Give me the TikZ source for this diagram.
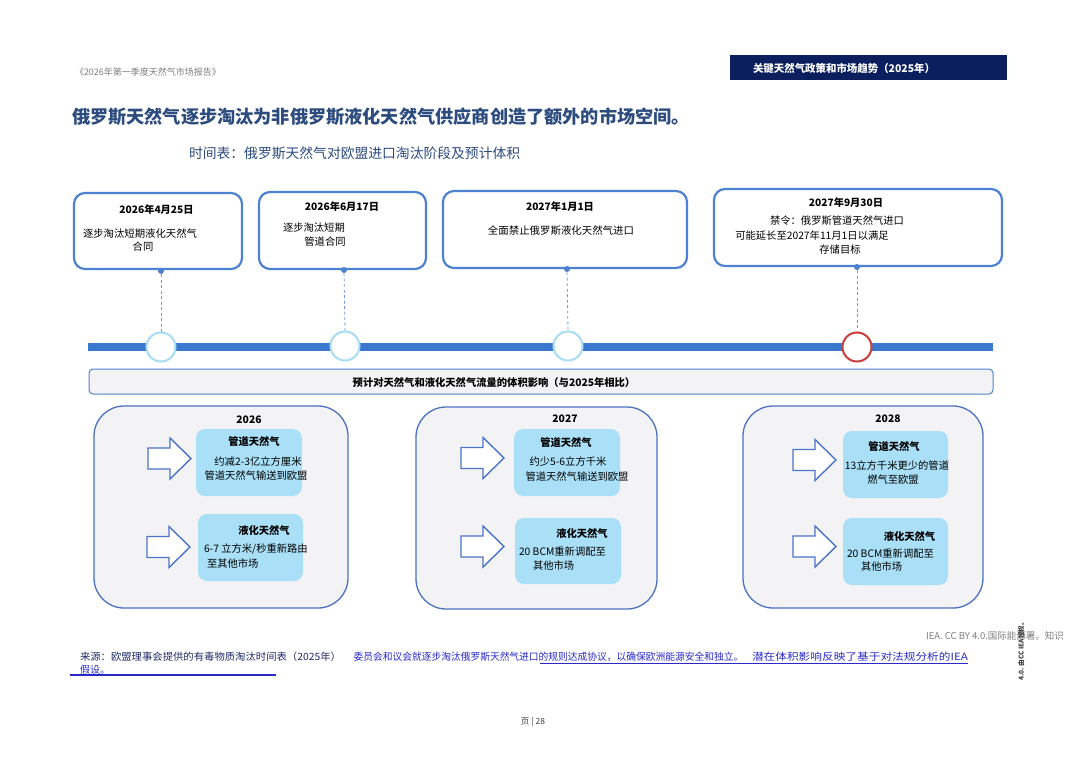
\documentclass[tikz,border=0pt]{standalone}
\usepackage{fontspec}
\usepackage{graphicx}
\setmainfont{Noto Sans CJK SC}
\definecolor{navy}{HTML}{0B1F5E}
\definecolor{titleblue}{HTML}{2C4B7E}
\definecolor{tlblue}{HTML}{4D82D3}
\definecolor{barblue}{HTML}{3A78CF}
\definecolor{circblue}{HTML}{A6DCF4}
\definecolor{circred}{HTML}{CC3D3D}
\definecolor{panelfill}{HTML}{F3F3F5}
\definecolor{panelline}{HTML}{4C72C2}
\definecolor{innerfill}{HTML}{A9E0F7}
\definecolor{arrowline}{HTML}{4A74C8}
\definecolor{srcblue}{HTML}{2A2AC8}
\definecolor{srcdark}{HTML}{1F2C66}
\definecolor{graytxt}{HTML}{7F7F7F}
\newcommand\fs[1]{\fontsize{#1}{#1}\selectfont}
\newcommand\fitw[2]{\resizebox{#1}{\height}{#2}}
\newcommand\hollowarrow[2]{%
  \draw[arrowshape] (#1,#2-10.5) -- (#1+22,#2-10.5) -- (#1+22,#2-20.5) -- (#1+43,#2)
    -- (#1+22,#2+20.5) -- (#1+22,#2+10.5) -- (#1,#2+10.5) -- cycle;}
\begin{document}
\begin{tikzpicture}[x=1pt,y=-1pt,
  tlbox/.style={draw=tlblue, line width=2.2pt, rounded corners=11pt, fill=white, inner sep=0pt},
  panel/.style={draw=panelline, line width=1.3pt, rounded corners=30pt, fill=panelfill, inner sep=0pt},
  innerbox/.style={fill=innerfill, rounded corners=9pt, inner sep=0pt},
  arrowshape/.style={draw=arrowline, line width=1.4pt, fill=white, line join=miter},
  txt/.style={inner sep=0pt, outer sep=0pt},
  datetxt/.style={txt, font=\fs{10.2}\bfseries},
  bodytxt/.style={txt, font=\fs{10.3}},
  headtxt/.style={txt, font=\fs{10.3}\bfseries},
  dot/.style={circle, fill=tlblue, minimum size=6pt, inner sep=0pt},
  mile/.style={circle, draw=circblue, line width=2pt, fill=white, minimum size=29pt, inner sep=0pt},
  dashline/.style={draw=tlblue!80, line width=0.8pt, dash pattern=on 3pt off 2.5pt}
]
\useasboundingbox (0,0) rectangle (1080,764);
\fill[white] (0,0) rectangle (1080,764);

% header
\node[txt, anchor=west, text=graytxt, font=\fs{9}] (hdr) at (75,72) {《2026年第一季度天然气市场报告》};
\node[fill=navy, minimum width=277pt, minimum height=25pt, inner sep=0pt] (navybox) at (868.5,67.5) {};
\node[txt, anchor=west, text=white, font=\fs{10.6}\bfseries] (navytxt) at (753,68) {\fitw{182pt}{关键天然气政策和市场趋势（2025年）}};

% titles
\node[txt, anchor=west, text=titleblue, font=\fs{18}\bfseries] (title) at (72,117) {\fitw{618pt}{俄罗斯天然气逐步淘汰为非俄罗斯液化天然气供应商创造了额外的市场空间。}};
\node[txt, anchor=west, text=titleblue, font=\fs{13.8}] (subtitle) at (189,153) {时间表：俄罗斯天然气对欧盟进口淘汰阶段及预计体积};

% timeline boxes
\node[tlbox, minimum width=168pt, minimum height=76pt] (t1) at (158,231) {};
\node[tlbox, minimum width=167pt, minimum height=77pt] (t2) at (342.5,230.5) {};
\node[tlbox, minimum width=244pt, minimum height=77pt] (t3) at (565,229.5) {};
\node[tlbox, minimum width=288pt, minimum height=77pt] (t4) at (858,227.5) {};

\node[datetxt] (t1d) at (156.5,210) {2026年4月25日};
\node[bodytxt, anchor=west] (t1a) at (83,234) {\fitw{114pt}{逐步淘汰短期液化天然气}};
\node[bodytxt] (t1b) at (143,247) {合同};

\node[datetxt] (t2d) at (342,207) {2026年6月17日};
\node[bodytxt, anchor=west] (t2a) at (283,228) {逐步淘汰短期};
\node[bodytxt] (t2b) at (325,242) {管道合同};

\node[datetxt] (t3d) at (560,207) {2027年1月1日};
\node[bodytxt] (t3a) at (561,231) {\fitw{146pt}{全面禁止俄罗斯液化天然气进口}};

\node[datetxt] (t4d) at (846,203) {2027年9月30日};
\node[bodytxt] (t4a) at (837,221) {禁令：俄罗斯管道天然气进口};
\node[bodytxt] (t4b) at (812,236) {可能延长至2027年11月1日以满足};
\node[bodytxt] (t4c) at (840,250) {存储目标};

% timeline bar
\coordinate (barL) at (88,347);
\coordinate (barR) at (993,347);
\draw[barblue, line width=8pt] (barL) -- (barR);

\node[mile] (c1) at (161,347) {};
\node[mile] (c2) at (345,346) {};
\node[mile] (c3) at (568,346) {};
\node[mile, draw=circred] (c4) at (857,347) {};

\node[dot] (d1) at (161,271) {};
\node[dot] (d2) at (344,270) {};
\node[dot] (d3) at (567,269) {};
\node[dot] (d4) at (857,267) {};
\draw[dashline] (d1) -- (c1.north);
\draw[dashline] (d2) -- (c2.north);
\draw[dashline] (d3) -- (c3.north);
\draw[dashline] (d4) -- (c4.north);

% banner
\node[draw=tlblue, line width=1pt, fill=panelfill, rounded corners=4pt, minimum width=904pt, minimum height=25pt, inner sep=0pt] (banner) at (541,381.5) {};
\node[txt, font=\fs{10.3}\bfseries] (bannertxt) at (494,383) {预计对天然气和液化天然气流量的体积影响（与2025年相比）};

% panels
\node[panel, minimum width=254pt, minimum height=202pt] (p1) at (221,507) {};
\node[panel, minimum width=241pt, minimum height=202pt] (p2) at (536.5,508) {};
\node[panel, minimum width=240pt, minimum height=202pt] (p3) at (863,507) {};

\node[headtxt] (y1) at (249,420) {2026};
\node[headtxt] (y2) at (565,419) {2027};
\node[headtxt] (y3) at (888,419) {2028};

% inner boxes
\node[innerbox, minimum width=106pt, minimum height=67pt] (p1a) at (249,462.5) {};
\node[innerbox, minimum width=105pt, minimum height=67pt] (p1b) at (250.5,547.5) {};
\node[innerbox, minimum width=106pt, minimum height=67pt] (p2a) at (567,462.5) {};
\node[innerbox, minimum width=106pt, minimum height=66pt] (p2b) at (568,551) {};
\node[innerbox, minimum width=105pt, minimum height=67pt] (p3a) at (895.5,464.5) {};
\node[innerbox, minimum width=105pt, minimum height=67pt] (p3b) at (895.5,551.5) {};

% arrows
\hollowarrow{148}{458.5}
\hollowarrow{147}{547}
\hollowarrow{461}{458}
\hollowarrow{461}{546.5}
\hollowarrow{793}{460}
\hollowarrow{793}{546.5}

% panel texts
\node[headtxt] (p1a1) at (254,442) {管道天然气};
\node[bodytxt] (p1a2) at (258,462) {约减2-3亿立方厘米};
\node[bodytxt] (p1a3) at (256,476) {管道天然气输送到欧盟};
\node[headtxt] (p1b1) at (264,531) {液化天然气};
\node[bodytxt, anchor=west] (p1b2) at (204,549) {6-7 立方米/秒重新路由};
\node[bodytxt, anchor=west] (p1b3) at (207,564) {至其他市场};

\node[headtxt] (p2a1) at (566,443) {管道天然气};
\node[bodytxt] (p2a2) at (568,462) {约少5-6立方千米};
\node[bodytxt] (p2a3) at (577,477) {管道天然气输送到欧盟};
\node[headtxt] (p2b1) at (582,534) {液化天然气};
\node[bodytxt, anchor=west] (p2b2) at (519,552) {20 BCM重新调配至};
\node[bodytxt, anchor=west] (p2b3) at (533,566) {其他市场};

\node[headtxt] (p3a1) at (894,447) {管道天然气};
\node[bodytxt] (p3a2) at (897,466) {13立方千米更少的管道};
\node[bodytxt] (p3a3) at (893,480) {燃气至欧盟};
\node[headtxt] (p3b1) at (909.5,537) {液化天然气};
\node[bodytxt, anchor=west] (p3b2) at (847,554) {20 BCM重新调配至};
\node[bodytxt, anchor=west] (p3b3) at (861,567) {其他市场};

% footer
\node[txt, anchor=west, text=graytxt, font=\fs{9.5}] (lic) at (926,636) {IEA. CC BY 4.0.国际能源署。知识};
\node[txt, rotate=90, font=\fs{6.6}\bfseries, text=black!75] (vt) at (1021,650) {4.0. 由CC IEA授权。};

\node[txt, anchor=west, text=srcdark, font=\fs{10}] (src1) at (80,657) {\fitw{261pt}{来源：欧盟理事会提供的有毒物质淘汰时间表（2025年）}};
\node[txt, anchor=west, text=srcblue, font=\fs{10}] (src2) at (353.5,657) {\fitw{390pt}{委员会和议会就逐步淘汰俄罗斯天然气进口的规则达成协议，以确保欧洲能源安全和独立。}};
\node[txt, anchor=west, text=srcblue, font=\fs{10}] (src3) at (752,657) {\fitw{216pt}{潜在体积影响反映了基于对法规分析的IEA}};
\node[txt, anchor=west, text=srcblue, font=\fs{10}] (src4) at (80,669.5) {假设。};
\coordinate (ul1a) at (540,663.5);
\coordinate (ul1b) at (968,663.5);
\draw[srcblue, line width=0.8pt] (ul1a) -- (ul1b);
\coordinate (ul2a) at (70,675);
\coordinate (ul2b) at (276,675);
\draw[srcblue, line width=1.3pt] (ul2a) -- (ul2b);

\node[txt, text=black!75, font=\fs{8.5}] (pg) at (533,722) {页 | 28};
\end{tikzpicture}
\end{document}
